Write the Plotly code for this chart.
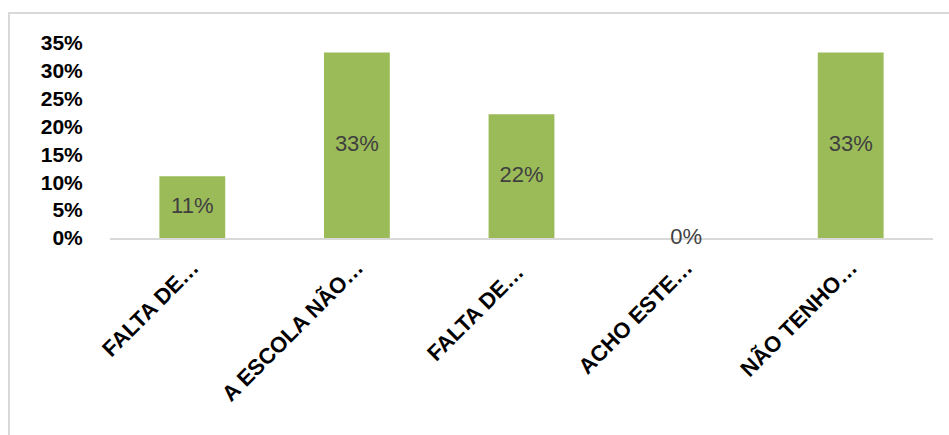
import plotly.graph_objects as go

categories = ["FALTA DE…", "A ESCOLA NÃO…", "FALTA DE… ", "ACHO ESTE…", "NÃO TENHO…"]
values = [0.111, 0.333, 0.222, 0.0, 0.333]
labels = ["11%", "33%", "22%", "0%", "33%"]
y_ticks = [0, 0.05, 0.10, 0.15, 0.20, 0.25, 0.30, 0.35]
y_tick_text = ["0%", "5%", "10%", "15%", "20%", "25%", "30%", "35%"]

W, H = 949, 435
L, R, T, B = 110, 16, 43, 197
pw, ph = W - L - R, H - T - B

fig = go.Figure()
fig.add_trace(go.Bar(
    x=categories, y=values,
    marker=dict(color="#9BBB59", line=dict(width=0)),
    hoverinfo="skip",
))
fig.add_trace(go.Scatter(
    x=categories, y=[v / 2 for v in values],
    mode="text", text=labels,
    textposition="middle center",
    textfont=dict(family="Liberation Sans, Arial", size=22, color="#404040"),
    cliponaxis=False,
    hoverinfo="skip",
))

# outer chart border
fig.add_shape(type="rect", xref="paper", yref="paper",
              x0=(9 - L) / pw, x1=(960 - L) / pw,
              y0=-(H + 20 - T - ph) / ph, y1=(ph + T - 13) / ph,
              line=dict(color="#d9d9d9", width=2), fillcolor="rgba(0,0,0,0)",
              layer="below")

fig.update_layout(
    width=W, height=H,
    margin=dict(l=L, r=R, t=T, b=B, pad=0),
    paper_bgcolor="white", plot_bgcolor="white",
    showlegend=False,
    bargap=0.6,
    font=dict(family="Liberation Sans, Arial", color="#000000"),
)
fig.update_xaxes(
    type="category",
    tickangle=-45,
    tickfont=dict(family="Liberation Sans, Arial", size=22, color="#000000", weight="bold"),
    showgrid=False, zeroline=False,
    showline=True, linecolor="#d9d9d9", linewidth=2,
    ticks="outside", ticklen=6, tickcolor="rgba(0,0,0,0)",
    layer="below traces",
)
fig.update_yaxes(
    range=[0, 0.35],
    tickvals=y_ticks, ticktext=y_tick_text,
    tickfont=dict(family="Liberation Sans, Arial", size=21, color="#000000", weight="bold"),
    showgrid=False, zeroline=False, showline=False,
    ticks="outside", ticklen=22, tickcolor="rgba(0,0,0,0)",
    layer="below traces",
)

fig.write_html("out.html")
